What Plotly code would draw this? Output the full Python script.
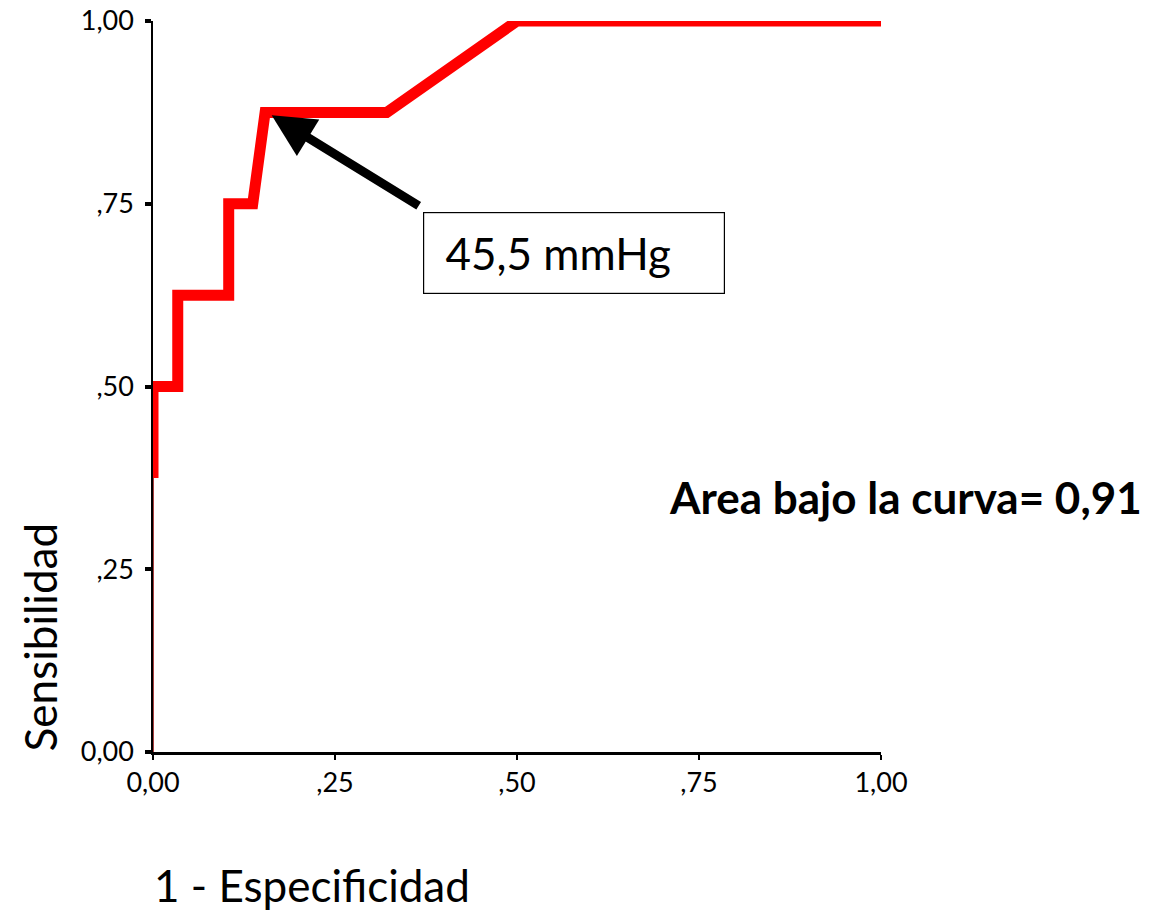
import plotly.graph_objects as go

# ROC curve: 1 - specificity vs sensitivity
fpr = [0.0, 0.0, 0.034, 0.034, 0.104, 0.104, 0.137, 0.154, 0.321, 0.5, 1.0]
tpr = [0.375, 0.5, 0.5, 0.625, 0.625, 0.75, 0.75, 0.875, 0.875, 1.0, 1.0]

# lower part of the curve, lying on the sensitivity axis
fpr_base = [0.0, 0.0]
tpr_base = [0.0, 0.375]

tick_vals = [0, 0.25, 0.5, 0.75, 1.0]
tick_text = ["0,00", ",25", ",50", ",75", "1,00"]

cut_point = (0.163, 0.871)
cut_label = "45,5 mmHg"
auc_label = "Area bajo la curva= 0,91"

FONT = "Lato, Calibri, Carlito, sans-serif"

fig = go.Figure()
fig.add_trace(go.Scatter(x=fpr_base, y=tpr_base, mode="lines",
                         line=dict(color="#8b0000", width=1.5),
                         hoverinfo="skip", cliponaxis=False))
fig.add_trace(go.Scatter(x=fpr, y=tpr, mode="lines",
                         line=dict(color="#ff0000", width=11),
                         cliponaxis=False))

axis_common = dict(range=[0, 1], tickvals=tick_vals, ticktext=tick_text,
                   showgrid=False, zeroline=False, showline=True,
                   automargin=False,
                   linecolor="black", ticks="outside", tickcolor="black",
                   tickfont=dict(family=FONT, size=27, color="black"))

fig.update_xaxes(**axis_common, linewidth=3, ticklen=5, tickwidth=2,
                 ticklabelstandoff=0)
fig.update_yaxes(**axis_common, linewidth=1.5, ticklen=6, tickwidth=4,
                 ticklabelstandoff=6)

# arrow pointing at the chosen cut-off
fig.add_annotation(x=cut_point[0], y=cut_point[1], ax=0.367, ay=0.746,
                   xref="x", yref="y", axref="x", ayref="y", text="",
                   showarrow=True, arrowhead=2, arrowsize=0.95,
                   arrowwidth=9, arrowcolor="black", standoff=0)
# cut-off label box
fig.add_annotation(x=0.371, y=0.739, xref="x", yref="y", xanchor="left",
                   yanchor="top", text="&nbsp;" + cut_label, showarrow=False,
                   width=280, height=60, align="left", borderpad=10,
                   bordercolor="black", borderwidth=1.2, bgcolor="white",
                   font=dict(family=FONT, size=44, color="black"))
# area under the curve
fig.add_annotation(x=1.033, y=0.349, xref="paper", yref="paper",
                   xanchor="center", yanchor="middle",
                   text="<b>" + auc_label + "</b>", showarrow=False,
                   font=dict(family=FONT, size=44, color="black"))
# axis titles
fig.add_annotation(x=-0.155, y=0.157, xref="paper", yref="paper",
                   xanchor="center", yanchor="middle",
                   text="Sensibilidad", textangle=-90, showarrow=False,
                   font=dict(family=FONT, size=44, color="black"))
fig.add_annotation(x=-0.001, y=-0.182, xref="paper", yref="paper",
                   xanchor="left", yanchor="middle",
                   text="1 - Especificidad", showarrow=False,
                   font=dict(family=FONT, size=44, color="black"))

fig.update_layout(width=1153, height=911, showlegend=False,
                  plot_bgcolor="white", paper_bgcolor="white",
                  margin=dict(l=153, r=272, t=21, b=159))

fig.write_html("out.html")
